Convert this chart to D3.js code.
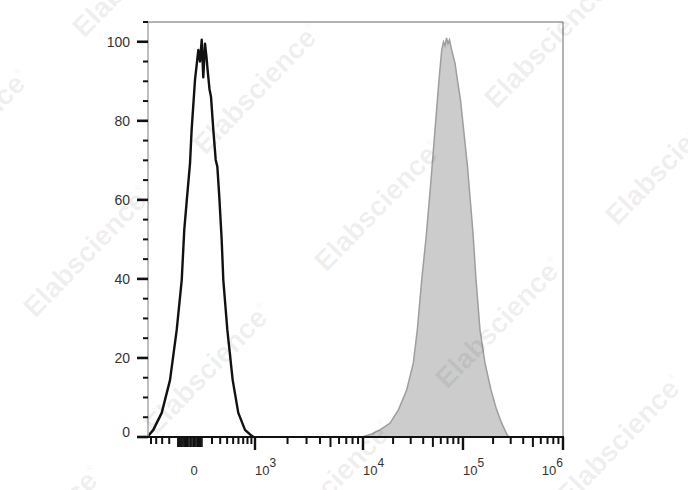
<!DOCTYPE html>
<html><head><meta charset="utf-8">
<script src="https://cdn.jsdelivr.net/npm/d3@7"></script>
<style>body{margin:0;background:#fff}svg{display:block}</style>
</head><body>
<svg id="c" width="688" height="490"></svg>
<script>
// ---- data (fluorescence value, % of max) ----
const unstainedX = [-565,-454,-307,-190,-112,-62,-39,-16,7,18,43,69,83,98,112,128,143,153,173,189,215,243,263,288,320,343,403,492,597,741,908,960];
const unstainedY = [0.2,1.8,6.1,14.4,27.1,39.7,52.4,60.5,69.3,77.7,90.4,97.9,95,100.5,91,99.5,96,93,88,86.1,77.7,70.1,68.4,60.8,49.9,39.7,27.1,14.4,6.1,1.8,0.3,0];
const stainedX = [10000,10470,12220,14790,18620,22540,27350,31840,34920,38640,42970,47860,52480,57540,61240,63830,66070,68390,70790,73280,77090,83180,88000,94400,110900,125900,135000,147900,166000,190500,217300,243800,273500,281800,290000];
const stainedY = [0,0.25,0.76,1.8,3.5,6.8,11.9,18.7,27.1,39.7,51.1,65,77.7,90.3,97.9,100,99,101,99.5,100.5,97.9,94.6,90.3,85.3,68.4,51.6,39.7,27.1,18.7,11.9,6.8,3.5,0.76,0.25,0];
const yTicks = d3.range(0, 106, 5);
const yTickLabels = [0,20,40,60,80,100];
const xMajorTicks = [1e3,1e4,1e5,1e6];
const xLabelValues = [0,1e3,1e4,1e5,1e6];
const xLabelExps = ["","3","4","5","6"];
const xNegMinor = [-500,-400,-300,-200];
const xZeroCluster = d3.range(-100, 101, 10);
const xLinMinor = [200,300,400,500,600,700,800,900];
const xLogMinor = [1e3,1e4,1e5].flatMap(d => [2,3,4,6,7,8,9].map(m => m*d));
const xLogMid = [5e3,5e4,5e5];
const watermark = "Elabscience";

// ---- scales ----
const L = 148, R = 563, T = 22, B = 437;
const xLin = d3.scaleSymlog().constant(300).domain([-565, 0, 1000]).range([L, 189, 255]);
const xLog = d3.scaleLog().domain([1e3, 1e4, 1e5, 1e6]).range([255, 363, 463, 563]);
const X = v => v < 1000 ? xLin(v) : xLog(v);
const y = d3.scaleLinear().domain([0, 105]).range([B, T]);

const svg = d3.select("#c");
const font = "'Liberation Sans', Arial, sans-serif";

svg.append("defs").append("clipPath").attr("id","clip")
  .append("rect").attr("x",L).attr("y",T).attr("width",R-L).attr("height",B-T);

const plot = svg.append("g").attr("clip-path","url(#clip)");

// stained (filled grey)
const sData = stainedX.map((v,i)=>[v, stainedY[i]]);
plot.append("path").datum(sData)
  .attr("d", d3.area().x(d=>X(d[0])).y0(y(0)).y1(d=>y(d[1])))
  .attr("fill","#cccccc").attr("stroke","#9e9e9e").attr("stroke-width",1.5);

// unstained (black line)
const uData = unstainedX.map((v,i)=>[v, unstainedY[i]]);
plot.append("path").datum(uData)
  .attr("d", d3.line().x(d=>X(d[0])).y(d=>y(d[1])))
  .attr("fill","none").attr("stroke","#111").attr("stroke-width",2.4).attr("stroke-linejoin","round");

// frame
svg.append("line").attr("x1",L).attr("x2",R).attr("y1",T).attr("y2",T).attr("stroke","#b3b3b3").attr("stroke-width",2);
svg.append("line").attr("x1",R).attr("x2",R).attr("y1",T).attr("y2",B).attr("stroke","#b3b3b3").attr("stroke-width",2);
svg.append("line").attr("x1",L).attr("x2",L).attr("y1",T).attr("y2",B).attr("stroke","#a8a8a8").attr("stroke-width",1.5);

// y ticks
const gy = svg.append("g");
gy.selectAll("line").data(yTicks).join("line")
  .attr("x1", L).attr("x2", d => yTickLabels.includes(d) ? L-11 : L-5)
  .attr("y1", d=>y(d)).attr("y2", d=>y(d))
  .attr("stroke","#111").attr("stroke-width", d => yTickLabels.includes(d) ? 2.6 : 2);
gy.selectAll("text").data(yTickLabels).join("text")
  .attr("x", L-18).attr("y", d => y(d) + (d===0 ? -5 : 0))
  .attr("dy","0.36em").attr("text-anchor","end")
  .attr("font-family",font).attr("font-size",14).attr("fill","#333")
  .text(d=>d);

// x axis
svg.append("line").attr("x1",L).attr("x2",R+1).attr("y1",B).attr("y2",B).attr("stroke","#111").attr("stroke-width",2);
const gx = svg.append("g").attr("stroke","#111");
function xt(vals, len, w){
  gx.append("g").selectAll("line").data(vals).join("line")
    .attr("x1",d=>X(d)).attr("x2",d=>X(d)).attr("y1",B).attr("y2",B+len).attr("stroke-width",w);
}
xt(xNegMinor, 7, 2);
xt(xZeroCluster, 10, 1.6);
xt(xLinMinor, 7, 2);
xt(xLogMinor, 7, 2);
xt(xLogMid, 10, 2);
xt(xMajorTicks, 13, 2.4);

const lab = svg.append("g").attr("font-family",font).attr("fill","#333");
xLabelValues.forEach((v,i)=>{
  if (xLabelExps[i] === "") {
    lab.append("text").attr("x", X(v)+5).attr("y", 475).attr("text-anchor","middle")
      .attr("font-size",13).text(v);
  } else {
    const t = lab.append("text").attr("x", X(v)).attr("y", 475)
      .attr("text-anchor", i === xLabelValues.length-1 ? "end" : "start").attr("font-size",13);
    t.append("tspan").text("10");
    t.append("tspan").attr("dy",-8).attr("font-size",12).text(xLabelExps[i]);
  }
});

// watermark lattice
const wm = svg.append("g").attr("font-family",font).attr("font-weight","bold").attr("fill","#000").attr("fill-opacity",0.08);
const base = [257, 88], v1 = [121, 117], v2 = [291, -46];
for (let i=-3;i<=5;i++) for (let j=-3;j<=3;j++){
  const cx = base[0] + i*v1[0] + j*v2[0];
  const cy = base[1] + i*v1[1] + j*v2[1];
  if (cx < -120 || cx > 810 || cy < -120 || cy > 610) continue;
  const t = wm.append("text").attr("transform",`translate(${cx},${cy}) rotate(-46)`)
    .attr("text-anchor","middle").attr("dy","0.35em").attr("font-size",28);
  t.append("tspan").text(watermark);
  t.append("tspan").attr("font-size",10).attr("dy",-13).attr("font-weight","normal").text("®");
}
</script>
</body></html>
